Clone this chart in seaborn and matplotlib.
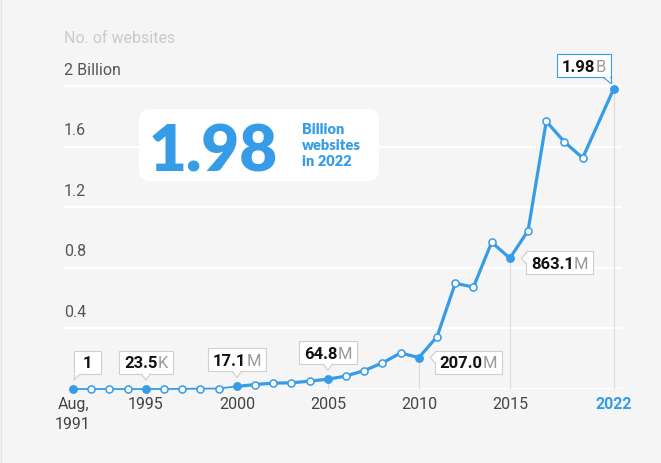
import matplotlib
matplotlib.use("Agg")
import numpy as np
import pandas as pd
import seaborn as sns
import matplotlib.pyplot as plt
from matplotlib.transforms import IdentityTransform
from matplotlib.patches import FancyBboxPatch, Polygon
from matplotlib.lines import Line2D

# ---------------- data ----------------
years = list(range(1991, 2020)) + [2022]
# horizontal position used by the chart for each year (2022 sits just after 2019)
x_positions = list(range(1991, 2020)) + [2020.7]
websites_billion = [
    0.000000001, 0.00000001, 0.00000013, 0.0000027, 0.0000235, 0.000258,
    0.00112, 0.00241, 0.00318, 0.0171, 0.0293, 0.0388, 0.0409, 0.0516,
    0.0648, 0.0855, 0.1219, 0.1723, 0.2380, 0.2070, 0.3460, 0.6971,
    0.6730, 0.9689, 0.8631, 1.0455, 1.7669, 1.6303, 1.5250, 1.98,
]
highlight_years = [1991, 1995, 2000, 2005, 2010, 2015, 2022]
callout_numbers = ["1", "23.5", "17.1", "64.8", "207.0", "863.1", "1.98"]
callout_units = ["", "K", "M", "M", "M", "M", "B"]
callout_kinds = ["up-left", "up", "up", "up", "right", "right", "up-right"]
guide_years = [2005, 2010, 2015, 2022]
xtick_years = [1991, 1995, 2000, 2005, 2010, 2015, 2022]
xtick_labels = ["Aug,\n1991", "1995", "2000", "2005", "2010", "2015", "2022"]
ytick_values = [0.4, 0.8, 1.2, 1.6, 2.0]
ytick_labels = ["0.4", "0.8", "1.2", "1.6", "2 Billion"]
grid_values = [0, 0.4, 0.8, 1.2, 1.6, 2.0]
y_title = "No. of websites"
headline_value = "1.98"
headline_text = "Billion\nwebsites\nin 2022"

# ---------------- style ----------------
BLUE = "#369CE8"
BG = "#F5F5F5"
sns.set_style("white")
plt.rcParams["font.family"] = ["Roboto", "DejaVu Sans"]

df = pd.DataFrame({"year": years, "pos": x_positions, "sites": websites_billion})
df["highlight"] = df["year"].isin(highlight_years)
pos_of = dict(zip(df["year"], df["pos"]))
val_of = dict(zip(df["year"], df["sites"]))

W, H = 661, 463
fig = plt.figure(figsize=(W / 100, H / 100), dpi=100, facecolor=BG)
ax = fig.add_axes([63 / W, 74 / H, 559 / W, 349 / H])
ax.set_facecolor(BG)
ax.set_xlim(1990.45, 2021.16)
ax.set_ylim(0, 349 / 151.5)
for s in ax.spines.values():
    s.set_visible(False)

# gridlines
for g in grid_values:
    ax.axhline(g, color="white", lw=1.6, zorder=0.5)

# y labels above gridlines
for v, lab in zip(ytick_values, ytick_labels):
    ax.annotate(lab, xy=(0, v), xycoords=("axes fraction", "data"),
                xytext=(0.5, 11.5), textcoords="offset points",
                ha="left", va="center", fontsize=11.5, color="#555555")
ax.annotate(y_title, xy=(0, 2.0), xycoords=("axes fraction", "data"),
            xytext=(0.5, 34), textcoords="offset points",
            ha="left", va="center", fontsize=11.5, color="#CACACA")

# guide lines
for yr in guide_years:
    ax.vlines(pos_of[yr], 0, val_of[yr], color="#DCDCDC", lw=0.8, zorder=1)

# line: thin early part, thick later part
early = df[df["year"] <= 2000]
late = df[df["year"] >= 2000]
sns.lineplot(data=early, x="pos", y="sites", ax=ax, color=BLUE, lw=1.3,
             zorder=3, clip_on=False)
sns.lineplot(data=late, x="pos", y="sites", ax=ax, color=BLUE, lw=2.3,
             zorder=3, clip_on=False)
sns.scatterplot(data=df[~df["highlight"]], x="pos", y="sites", ax=ax, s=26,
                color="white", edgecolor=BLUE, linewidth=1.1, zorder=4,
                clip_on=False)
sns.scatterplot(data=df[df["highlight"]], x="pos", y="sites", ax=ax, s=34,
                color=BLUE, edgecolor=BLUE, linewidth=0.5, zorder=5,
                clip_on=False)

# x ticks
ax.set_xticks([pos_of[y] for y in xtick_years], xtick_labels)
ax.set_yticks([])
ax.tick_params(axis="x", length=0, pad=6, labelsize=11.5, colors="#444444")
ax.set_xlabel("")
ax.set_ylabel("")
tl = ax.get_xticklabels()
tl[0].set_linespacing(1.35)
tl[-1].set_color(BLUE)
tl[-1].set_fontweight("bold")

# headline box
ID = IdentityTransform()
box = FancyBboxPatch((139, H - 181), 240, 72, boxstyle="round,pad=0,rounding_size=11",
                     transform=ID, fc="white", ec="none", zorder=6)
fig.add_artist(box)
fig.text(149, H - 171.5, headline_value, transform=ID, fontsize=47,
         family=["Lato", "DejaVu Sans"], fontweight="heavy", color=BLUE,
         ha="left", va="baseline", zorder=7)
fig.text(302, H - 145.5, headline_text, transform=ID, fontsize=10.5,
         family=["Lato", "DejaVu Sans"], fontweight="heavy", color=BLUE,
         ha="left", va="center", linespacing=1.25, zorder=7)

# callouts
fig.canvas.draw()
r = fig.canvas.get_renderer()
FS = 12
CAP = 0.711 * FS * 100 / 72
GAP = 0.0


def callout(yr, num, unit, kind, edge):
    pxx, pyy = ax.transData.transform((pos_of[yr], val_of[yr]))
    t1 = fig.text(0, 0, num, transform=ID, fontsize=FS, fontweight="bold",
                  color="#111111", ha="left", va="baseline", zorder=10)
    w1 = t1.get_window_extent(r).width
    tw = w1
    t2 = None
    if unit:
        t2 = fig.text(0, 0, unit, transform=ID, fontsize=FS, fontweight="normal",
                      color="#9A9A9A", ha="left", va="baseline", zorder=10)
        tw = w1 + GAP + t2.get_window_extent(r).width
    bw = max(tw + 10, 27)
    bh = 23
    if kind == "up-left":
        bx0, by0 = pxx + 0.5, pyy + 15
    elif kind == "up":
        bx0, by0 = pxx - bw / 2, pyy + 15
    elif kind == "right":
        bx0, by0 = pxx + 16, pyy - 4.5 - bh / 2
    else:  # up-right
        bx0, by0 = pxx - 3 - bw, pyy + 11.7
    cx, cy = bx0 + bw / 2, by0 + bh / 2
    tx = cx - tw / 2
    ty = cy - CAP / 2
    t1.set_position((tx, ty))
    if t2 is not None:
        t2.set_position((tx + w1 + GAP, ty))
    fig.add_artist(FancyBboxPatch((bx0, by0), bw, bh, boxstyle="square,pad=0",
                                  transform=ID, fc="white", ec=edge, lw=0.8, zorder=8))
    if kind == "up":
        base = [(pxx - 4.5, by0), (pxx + 4.5, by0)]
        tip = (pxx, pyy + 9)
        fill = [(pxx - 4.5, by0 + 1), (pxx + 4.5, by0 + 1), tip]
    elif kind == "up-left":
        base = [(bx0, by0), (bx0 + 7, by0)]
        tip = (bx0, by0 - 6)
        fill = [(bx0 + 0.6, by0 + 1), (bx0 + 7, by0 + 1), (bx0 + 0.6, by0 - 6)]
    elif kind == "up-right":
        base = [(bx0 + bw - 7, by0), (bx0 + bw, by0)]
        tip = (bx0 + bw, by0 - 6)
        fill = [(bx0 + bw - 7, by0 + 1), (bx0 + bw - 0.6, by0 + 1), (bx0 + bw - 0.6, by0 - 6)]
    else:
        base = [(bx0, pyy + 5), (bx0, pyy - 5)]
        tip = (bx0 - 4.5, pyy)
        fill = [(bx0 + 1, pyy + 5), (bx0 + 1, pyy - 5), tip]
    fig.add_artist(Polygon(fill, closed=True, transform=ID, fc="white",
                           ec="none", zorder=9))
    for b in base:
        if (kind == "up-left" and b == base[0]) or (kind == "up-right" and b == base[1]):
            xs, ys = [b[0], tip[0]], [by0, tip[1]]
        else:
            xs, ys = [b[0], tip[0]], [b[1], tip[1]]
        fig.add_artist(Line2D(xs, ys, transform=ID, color=edge, lw=0.8, zorder=9))


for yr, num, unit, kind in zip(highlight_years, callout_numbers, callout_units, callout_kinds):
    edge = BLUE if yr == 2022 else "#CFCFCF"
    callout(yr, num, unit, kind, edge)

# thin left border of the card
fig.add_artist(Line2D([0.5, 0.5], [0, H], transform=ID, color="#E3E3E3", lw=1, zorder=20))

fig.savefig("out.png", dpi=100, facecolor=BG)
